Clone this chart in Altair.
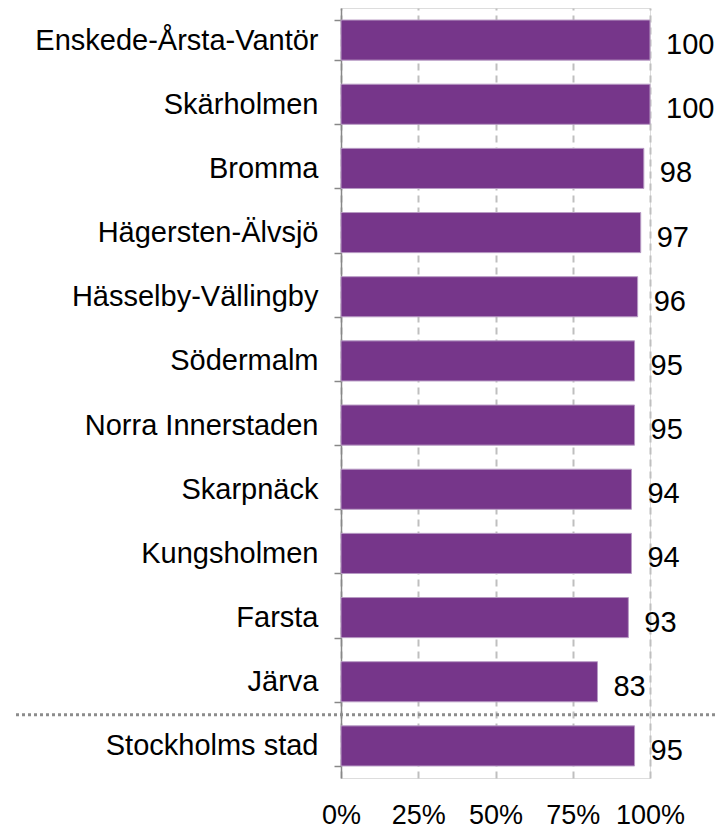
import altair as alt
import pandas as pd

districts = ["Enskede-Årsta-Vantör", "Skärholmen", "Bromma", "Hägersten-Älvsjö",
             "Hässelby-Vällingby", "Södermalm", "Norra Innerstaden", "Skarpnäck",
             "Kungsholmen", "Farsta", "Järva", "Stockholms stad"]
values = [100, 100, 98, 97, 96, 95, 95, 94, 94, 93, 83, 95]
x_ticks = [0, 25, 50, 75, 100]

df = pd.DataFrame({"district": districts, "value": values})
df["label"] = df["value"].astype(str)

FONT = "Liberation Sans"

y_enc = alt.Y(
    "district:N", sort=districts, title=None,
    scale=alt.Scale(paddingInner=0.375, paddingOuter=0.1875),
    axis=alt.Axis(labelFontSize=29, labelFont=FONT, labelColor="#000000",
                  labelLimit=500, labelPadding=16, tickBand="extent",
                  tickSize=7, tickColor="#888888", tickWidth=1.5,
                  domainColor="#888888", domainWidth=1.5, grid=False),
)
x_enc = alt.X(
    "value:Q", title=None,
    scale=alt.Scale(domain=[0, 100], nice=False),
    axis=alt.Axis(values=x_ticks, labelExpr="datum.value + '%'",
                  labelFontSize=27, labelFont=FONT, labelColor="#000000",
                  labelPadding=24, labelOverlap=False, labelBound=False,
                  labelFlush=False, labelAlign="center",
                  ticks=False, tickSize=0, domain=False,
                  grid=True, gridDash=[7, 5], gridColor="#BFBFBF", gridWidth=2),
)

base = alt.Chart(df)

bars = base.mark_bar(color="#76368A", stroke="#B89BC4", strokeWidth=1).encode(
    x=x_enc, y=y_enc
)

labels = base.mark_text(align="left", baseline="middle", dx=16, dy=5,
                        fontSize=29, font=FONT, color="#000000").encode(
    x="value:Q", y=alt.Y("district:N", sort=districts), text="label:N"
)

sep = alt.Chart(df[df["district"] == "Stockholms stad"]).mark_rule(
    color="#8C8C8C", strokeWidth=3, strokeDash=[3, 3], yOffset=-11
).encode(
    y=alt.Y("district:N", sort=districts, bandPosition=0),
    x=alt.value(-325), x2=alt.value(374)
)

chart = alt.layer(bars, labels, sep).properties(
    width=309, height=770,
    autosize=alt.AutoSizeParams(type="none"),
    padding={"left": 333, "right": 65, "top": 0, "bottom": 50},
).configure_view(stroke=None).configure(background="white")

chart.save("out.html", embed_options={"renderer": "svg", "actions": False})
